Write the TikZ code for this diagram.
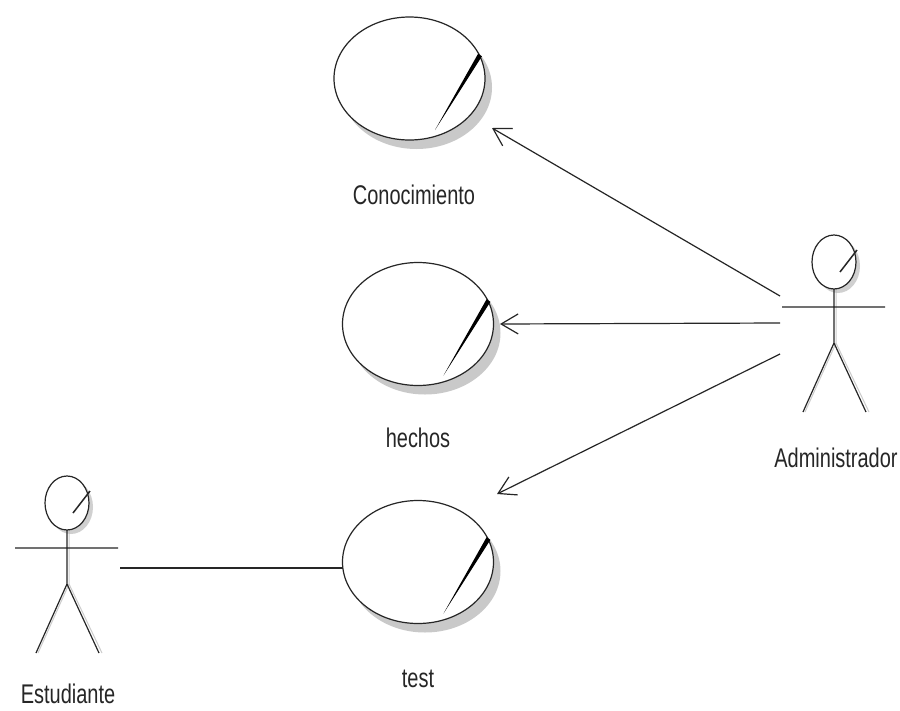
\documentclass[tikz,border=0pt]{standalone}
\usepackage{fontspec}
\setmainfont{Liberation Sans}
\newfontfamily\labelfont[FakeStretch=0.74]{Liberation Sans}
\usetikzlibrary{shapes.geometric,arrows.meta,calc,shadows}

\tikzset{
  umlline/.style={line width=1.2pt, draw=black!85},
  usecase/.style={ellipse, draw=black!85, line width=1.2pt, fill=white,
    minimum width=151pt, minimum height=123pt, inner sep=0pt,
    drop shadow={shadow xshift=7pt, shadow yshift=-9pt, fill=black!35, opacity=0.6}},
  lbl/.style={font=\labelfont\fontsize{27}{30}\selectfont, text=black!85, inner sep=0pt},
  assoc/.style={umlline, -{Straight Barb[length=17pt, width=20pt, line width=1.2pt]}},
  ucslash/.pic={
    \fill[black] (68.6,-24.8) -- (72.4,-22.2) -- (25.5,51.5) -- cycle;
  },
  actor/.pic={
    % faint offset copy of the figure
    \draw[black!20, line width=1pt] (2,27) -- (2,81) (2,81) -- (-29,150) (2,81) -- (35,150);
    \fill[black!30, opacity=0.6] (4,4) ellipse [x radius=22, y radius=27];
    \draw[umlline, fill=white] (0,0) ellipse [x radius=22, y radius=27];
    \draw[umlline, line width=1.5pt] (23,-12) -- (6,10);
    \draw[umlline] (0,27) -- (0,81) (-52,45) -- (51,45)
                   (0,81) -- (-31,150) (0,81) -- (32,150);
  }
}

\begin{document}
\begin{tikzpicture}[x=1pt, y=-1pt]
  \useasboundingbox[fill=white] (0,0) rectangle (900,710);

  % use cases
  \node[usecase] (con) at (409.5,78.5) {};
  \node[usecase] (hec) at (418,324) {};
  \node[usecase] (tst) at (418,562) {};
  \pic at (con.center) {ucslash};
  \pic at (hec.center) {ucslash};
  \pic at (tst.center) {ucslash};

  \node[lbl] (conL) at (414,195) {Conocimiento};
  \node[lbl] (hecL) at (418,438) {hechos};
  \node[lbl] (tstL) at (418,679) {test};

  % actors
  \pic (adm) at (834,262) {actor};
  \pic (est) at (67,503) {actor};
  \node[lbl] (admL) at (836,458) {Administrador};
  \node[lbl] (estL) at (68,694) {Estudiante};

  % connector end points
  \coordinate (a1) at (780,296);
  \coordinate (a2) at (780,323);
  \coordinate (a3) at (780,354);
  \coordinate (conIn) at ($(con.center)+(82.5,49.5)$);
  \coordinate (hecIn) at ($(hec.center)+(82,0)$);
  \coordinate (tstIn) at ($(tst.center)+(79,-68)$);
  \coordinate (tstL0) at ($(tst.center)+(-75,6)$);
  \coordinate (e1) at (120,568);

  % associations
  \draw[assoc] (a1) -- (conIn);
  \draw[assoc] (a2) -- (hecIn);
  \draw[assoc] (a3) -- (tstIn);
  \draw[umlline] (e1) -- (tstL0);
\end{tikzpicture}
\end{document}
